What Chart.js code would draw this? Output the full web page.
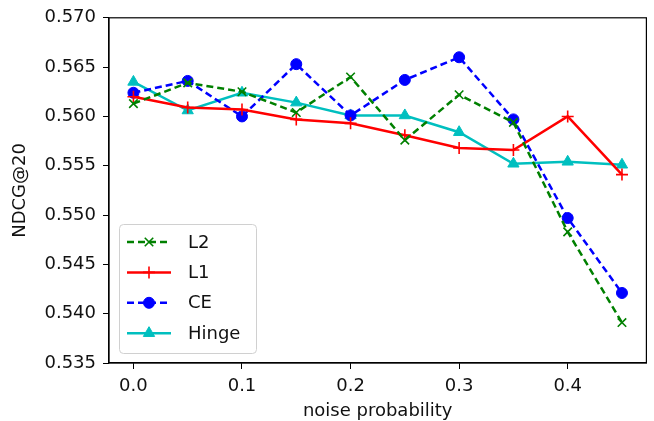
<!DOCTYPE html>
<html>
<head>
<meta charset="utf-8">
<script src="https://cdn.jsdelivr.net/npm/chart.js@4.4.1/dist/chart.umd.min.js"></script>
<style>
  html, body { margin: 0; padding: 0; background: #fff; }
  #wrap { width: 654px; height: 421px; position: relative; }
</style>
</head>
<body>
<div id="wrap"><canvas id="chart"></canvas></div>
<script>
// данные
const noiseProb = [0.0, 0.05, 0.1, 0.15, 0.2, 0.25, 0.3, 0.35, 0.4, 0.45];
const l2Values = [0.5613, 0.5634, 0.5625, 0.5604, 0.5640, 0.5576, 0.5622, 0.5594, 0.5483, 0.5391];
const l1Values = [0.5620, 0.5609, 0.5607, 0.5597, 0.5593, 0.5581, 0.5568, 0.5566, 0.5600, 0.5541];
const ceValues = [0.5624, 0.5636, 0.5600, 0.5653, 0.5601, 0.5637, 0.5660, 0.5597, 0.5497, 0.5421];
const hingeValues = [0.5635, 0.5606, 0.5624, 0.5614, 0.5601, 0.5601, 0.5584, 0.5552, 0.5554, 0.5551];
const xTicks = [0.0, 0.1, 0.2, 0.3, 0.4];
const yTicks = [0.535, 0.540, 0.545, 0.550, 0.555, 0.560, 0.565, 0.570];

const FONT = 'DejaVu Sans';
const TEXT = '#111';
const toPoints = vals => vals.map((v, i) => ({ x: noiseProb[i], y: v }));

const series = [
  { label: 'L2', data: l2Values, color: '#008000', dash: [7, 4], style: 'crossRot', r: 6 },
  { label: 'L1', data: l1Values, color: '#ff0000', dash: [], style: 'cross', r: 6 },
  { label: 'CE', data: ceValues, color: '#0000ff', dash: [7, 4], style: 'circle', r: 5.5 },
  { label: 'Hinge', data: hingeValues, color: '#00bfbf', dash: [], style: 'triangle', r: 6.5 }
];

// рамка вокруг области графика (верх и право)
const framePlugin = {
  id: 'frame',
  afterDatasetsDraw(chart) {
    const { ctx, chartArea: a } = chart;
    ctx.save();
    ctx.strokeStyle = '#000';
    ctx.lineWidth = 1.2;
    ctx.strokeRect(a.left, a.top, a.right - a.left, a.bottom - a.top);
    ctx.restore();
  }
};

// легенда в стиле matplotlib, внутри области графика
const legendPlugin = {
  id: 'mplLegend',
  afterDraw(chart) {
    const { ctx } = chart;
    const x0 = 119, y0 = 224, w = 137, h = 129;
    ctx.save();
    ctx.beginPath();
    ctx.roundRect(x0 + 0.5, y0 + 0.5, w, h, 4);
    ctx.fillStyle = 'rgba(255,255,255,0.8)';
    ctx.fill();
    ctx.strokeStyle = '#d0d0d0';
    ctx.lineWidth = 1;
    ctx.stroke();
    chart.data.datasets.forEach((ds, i) => {
      const cy = 242 + i * 30.4;
      ctx.beginPath();
      ctx.setLineDash(ds.borderDash || []);
      ctx.strokeStyle = ds.borderColor;
      ctx.lineWidth = ds.borderWidth;
      ctx.moveTo(127, cy);
      ctx.lineTo(171, cy);
      ctx.stroke();
      ctx.setLineDash([]);
      ctx.fillStyle = ds.pointBackgroundColor;
      ctx.strokeStyle = ds.pointBorderColor;
      ctx.lineWidth = ds.pointBorderWidth;
      Chart.helpers.drawPoint(ctx, {
        pointStyle: ds.pointStyle,
        radius: ds.pointRadius,
        borderWidth: ds.pointBorderWidth,
        rotation: 0
      }, 149, cy);
      ctx.fillStyle = TEXT;
      ctx.font = '18px "' + FONT + '"';
      ctx.textBaseline = 'middle';
      ctx.fillText(ds.label, 188, cy + 1);
    });
    ctx.restore();
  }
};

Chart.register(framePlugin, legendPlugin);

new Chart(document.getElementById('chart'), {
  type: 'line',
  data: {
    datasets: series.map(s => ({
      label: s.label,
      data: toPoints(s.data),
      borderColor: s.color,
      backgroundColor: s.color,
      borderWidth: 2.5,
      borderDash: s.dash,
      pointStyle: s.style,
      pointRadius: s.r,
      pointBorderWidth: s.style === 'circle' || s.style === 'triangle' ? 1 : 1.6,
      pointBorderColor: s.color,
      pointBackgroundColor: s.color,
      fill: false,
      tension: 0
    }))
  },
  options: {
    responsive: true,
    maintainAspectRatio: false,
    animation: false,
    layout: { padding: { left: 0, right: 1, top: 14, bottom: 0 } },
    plugins: {
      legend: { display: false },
      tooltip: { enabled: false }
    },
    scales: {
      x: {
        type: 'linear',
        min: -0.0225,
        max: 0.4725,
        afterBuildTicks: scale => { scale.ticks = xTicks.map(v => ({ value: v })); },
        afterFit: scale => { scale.height = 58; },
        ticks: {
          color: TEXT,
          font: { family: FONT, size: 18 },
          padding: 7,
          maxRotation: 0,
          callback: v => v.toFixed(1)
        },
        grid: { display: true, drawOnChartArea: false, drawTicks: true, tickLength: 6, color: '#000', tickWidth: 1 },
        border: { display: true, color: '#000', width: 1.2 },
        title: {
          display: true,
          text: 'noise probability',
          color: TEXT,
          font: { family: FONT, size: 18 },
          padding: { top: 0, bottom: -1 }
        }
      },
      y: {
        type: 'linear',
        min: 0.535,
        max: 0.570,
        afterBuildTicks: scale => { scale.ticks = yTicks.map(v => ({ value: v })); },
        afterFit: scale => { scale.width = 109; },
        ticks: {
          color: TEXT,
          font: { family: FONT, size: 18 },
          padding: 7,
          callback: v => v.toFixed(3)
        },
        grid: { display: true, drawOnChartArea: false, drawTicks: true, tickLength: 6, color: '#000', tickWidth: 1 },
        border: { display: true, color: '#000', width: 1.2 },
        title: {
          display: true,
          text: 'NDCG@20',
          color: TEXT,
          font: { family: FONT, size: 18 },
          padding: { top: 10, bottom: 0 }
        }
      }
    }
  }
});
</script>
</body>
</html>
